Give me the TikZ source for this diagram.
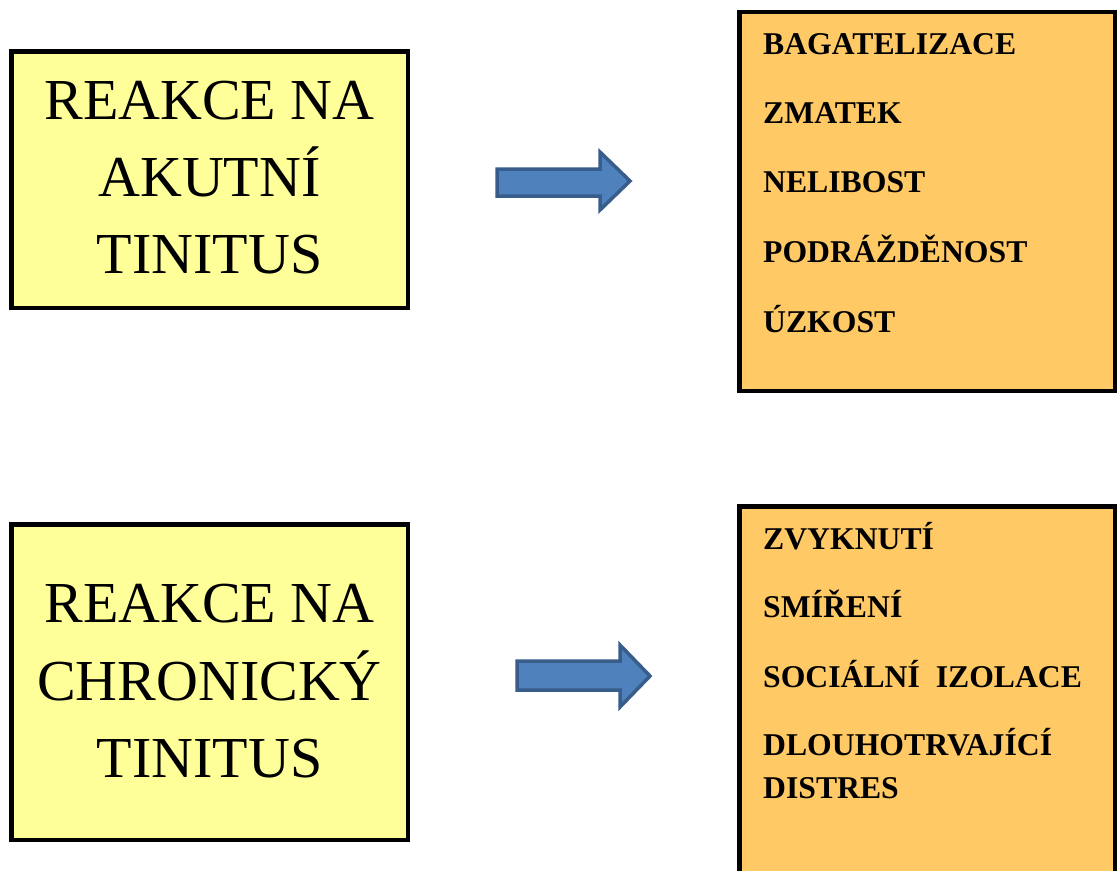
\documentclass[tikz,border=0pt]{standalone}
\usepackage{fontspec}
\setmainfont{Liberation Serif}
\definecolor{paleyellow}{HTML}{FFFF99}
\definecolor{softorange}{HTML}{FFC966}
\definecolor{arrowfill}{HTML}{4F81BD}
\definecolor{arrowedge}{HTML}{385D8A}
\tikzset{
  framebox/.style={draw=black, line width=4.5pt, inner sep=0pt},
  reactionbox/.style={framebox, fill=paleyellow},
  listbox/.style={framebox, fill=softorange},
  titleline/.style={anchor=base, inner sep=0pt, font=\fontsize{58}{70}\selectfont},
  itemline/.style={anchor=base west, inner sep=0pt, font=\fontsize{31.7}{38}\selectfont\bfseries},
  blockarrow/.style={fill=arrowfill, draw=arrowedge, line width=3.5pt, line join=miter}
}
\begin{document}
\begin{tikzpicture}[x=1pt, y=-1pt]
  \useasboundingbox (0,0) rectangle (1118,870);
  \clip (0,0) rectangle (1118,870);

  % acute tinnitus
  \node[reactionbox, minimum width=396.5pt, minimum height=256.5pt] (acute) at (209.5,179.5) {};
  \node[titleline] (acute1) at (209.5,119) {REAKCE NA};
  \node[titleline] (acute2) at (209.5,196) {AKUTNÍ};
  \node[titleline] (acute3) at (209.5,273) {TINITUS};

  \node[listbox, minimum width=375.5pt, minimum height=379pt] (acutelist) at (927,201.25) {};
  \node[itemline] (a1) at (763,54) {BAGATELIZACE};
  \node[itemline] (a2) at (763,123) {ZMATEK};
  \node[itemline] (a3) at (763,192) {NELIBOST};
  \node[itemline] (a4) at (763,262) {PODRÁŽDĚNOST};
  \node[itemline] (a5) at (763,332) {ÚZKOST};

  \draw[blockarrow] (497,169) -- (600,169) -- (600,152) -- (630,181)
    -- (600,210) -- (600,196) -- (497,196) -- cycle;

  % chronic tinnitus
  \node[reactionbox, minimum width=396.5pt, minimum height=315.5pt] (chronic) at (209.5,682) {};
  \node[titleline] (chronic1) at (209.5,622) {REAKCE NA};
  \node[titleline] (chronic2) at (209.5,700) {CHRONICKÝ};
  \node[titleline] (chronic3) at (209.5,777) {TINITUS};

  \node[listbox, minimum width=375.5pt, minimum height=420pt] (chroniclist) at (927,716.25) {};
  \node[itemline] (c1) at (763,549) {ZVYKNUTÍ};
  \node[itemline] (c2) at (763,617) {SMÍŘENÍ};
  \node[itemline] (c3) at (763,687) {SOCIÁLNÍ\ \ IZOLACE};
  \node[itemline] (c4) at (763,755) {DLOUHOTRVAJÍCÍ};
  \node[itemline] (c5) at (763,798) {DISTRES};

  \draw[blockarrow] (517,661) -- (620,661) -- (620,645) -- (650,676)
    -- (620,707) -- (620,690) -- (517,690) -- cycle;
\end{tikzpicture}
\end{document}
